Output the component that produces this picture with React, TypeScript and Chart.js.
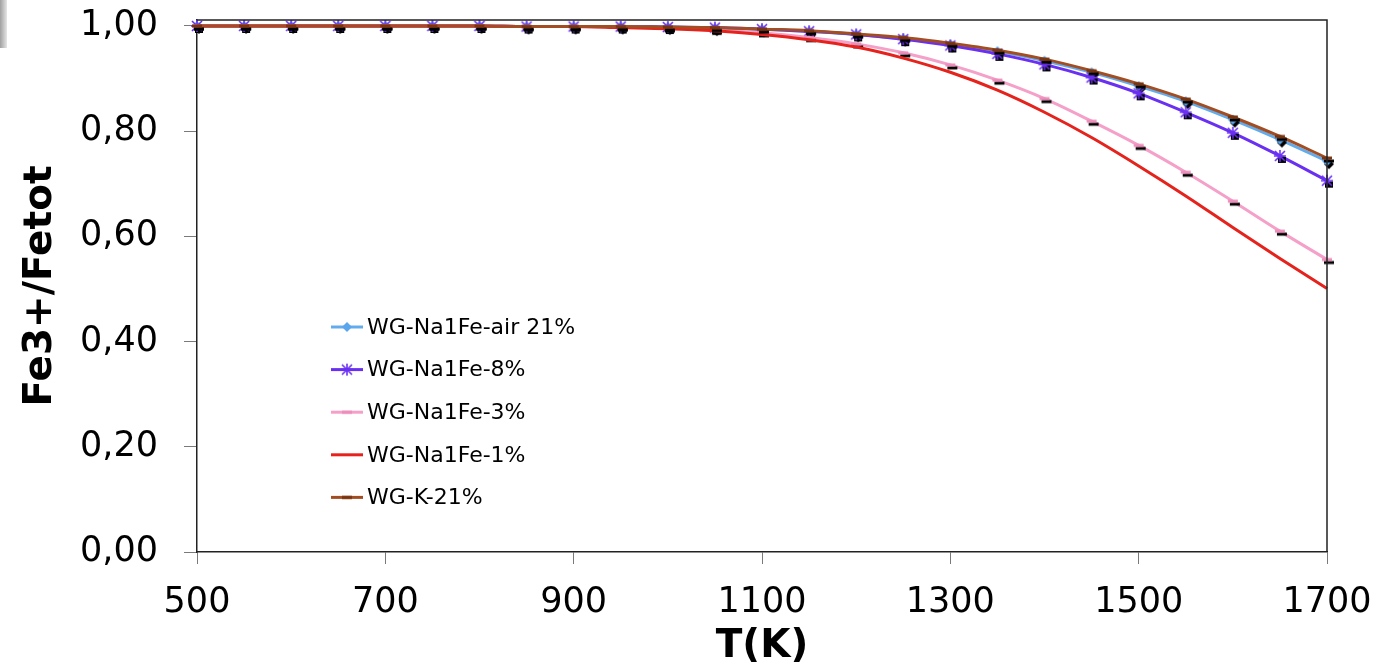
import React, { useEffect, useRef } from "react";
import { Chart, registerables } from "chart.js";

Chart.register(...registerables);

// ---- data ----
const temperatures = [500, 550, 600, 650, 700, 750, 800, 850, 900, 950, 1000, 1050, 1100, 1150, 1200, 1250, 1300, 1350, 1400, 1450, 1500, 1550, 1600, 1650, 1700];
const naAir21 = [1.0, 1.0, 1.0, 1.0, 1.0, 1.0, 1.0, 0.999, 0.999, 0.999, 0.998, 0.996, 0.994, 0.99, 0.984, 0.976, 0.965, 0.952, 0.934, 0.912, 0.886, 0.857, 0.822, 0.784, 0.743];
const na8 = [1.0, 1.0, 1.0, 1.0, 1.0, 1.0, 1.0, 0.999, 0.999, 0.999, 0.998, 0.997, 0.994, 0.99, 0.984, 0.975, 0.963, 0.947, 0.927, 0.902, 0.872, 0.836, 0.797, 0.753, 0.706];
const na3 = [1.0, 1.0, 1.0, 1.0, 1.0, 1.0, 1.0, 0.999, 0.999, 0.998, 0.996, 0.992, 0.987, 0.978, 0.966, 0.949, 0.926, 0.897, 0.862, 0.819, 0.773, 0.722, 0.667, 0.61, 0.556];
const na1 = [1.0, 1.0, 1.0, 1.0, 1.0, 1.0, 1.0, 0.999, 0.999, 0.997, 0.995, 0.991, 0.984, 0.974, 0.96, 0.939, 0.912, 0.878, 0.836, 0.788, 0.734, 0.677, 0.617, 0.558, 0.501];
const k21 = [1.0, 1.0, 1.0, 1.0, 1.0, 1.0, 1.0, 0.999, 0.999, 0.999, 0.998, 0.997, 0.994, 0.991, 0.985, 0.978, 0.967, 0.954, 0.937, 0.915, 0.89, 0.861, 0.827, 0.79, 0.749];

const seriesLabels = ["WG-Na1Fe-air 21%", "WG-Na1Fe-8%", "WG-Na1Fe-3%", "WG-Na1Fe-1%", "WG-K-21%"];
const seriesColors = ["#62ACEE", "#6A30F2", "#F5A0C8", "#E5221C", "#A34E22"];
const seriesMarkers = ["diamond", "star", "dash", "none", "dash"];
const markerColors = ["#5AA6EC", "#6A30F2", "#EE8DBB", "#E5221C", "#7A3410"];

const xTickValues = [500, 700, 900, 1100, 1300, 1500, 1700];
const yTickValues = [0, 0.2, 0.4, 0.6, 0.8, 1.0];
const xTitle = "T(K)";
const yTitle = "Fe3+/Fetot";

const FONT = "'DejaVu Sans', Verdana, sans-serif";

function makeMarker(kind: string, color: string, shadow: boolean): HTMLCanvasElement {
  const c = document.createElement("canvas");
  c.width = 22;
  c.height = 22;
  const g = c.getContext("2d") as CanvasRenderingContext2D;
  const draw = (dx: number, dy: number, col: string) => {
    g.save();
    g.translate(11 + dx, 11 + dy);
    g.fillStyle = col;
    g.strokeStyle = col;
    if (kind === "diamond") {
      g.beginPath();
      g.moveTo(0, -5);
      g.lineTo(5, 0);
      g.lineTo(0, 5);
      g.lineTo(-5, 0);
      g.closePath();
      g.fill();
    } else if (kind === "star") {
      g.lineWidth = 1.6;
      g.beginPath();
      g.moveTo(-5, -5);
      g.lineTo(5, 5);
      g.moveTo(5, -5);
      g.lineTo(-5, 5);
      g.moveTo(0, -6);
      g.lineTo(0, 6);
      g.moveTo(-6, 0);
      g.lineTo(6, 0);
      g.stroke();
    } else if (kind === "dash") {
      g.fillRect(-5, -1.5, 10, 3);
    }
    g.restore();
  };
  if (shadow && kind !== "none") {
    if (kind === "star") {
      g.fillStyle = "#000";
      g.fillRect(11 - 2, 11 + 1, 8, 6);
    } else {
      draw(2, 3, "#000");
    }
  }
  if (kind !== "none") draw(0, 0, color);
  return c;
}

const framePlugin = {
  id: "frameAndLegend",
  afterDraw(chart: any) {
    const { ctx, chartArea } = chart;
    ctx.save();
    // top and right frame lines
    ctx.strokeStyle = "#222";
    ctx.lineWidth = 1.5;
    ctx.beginPath();
    ctx.moveTo(chartArea.left, chartArea.top);
    ctx.lineTo(chartArea.right, chartArea.top);
    ctx.lineTo(chartArea.right, chartArea.bottom);
    ctx.stroke();

    // legend inside plot
    const x0 = 331;
    const x1 = 363;
    const textX = 367;
    const rowY0 = 327;
    const rowStep = 42.6;
    ctx.font = `22px ${FONT}`;
    ctx.textBaseline = "middle";
    ctx.textAlign = "left";
    chart.data.datasets.forEach((ds: any, i: number) => {
      const y = rowY0 + i * rowStep;
      ctx.strokeStyle = ds.borderColor;
      ctx.lineWidth = 3;
      ctx.beginPath();
      ctx.moveTo(x0, y);
      ctx.lineTo(x1, y);
      ctx.stroke();
      const m = ds.legendMarker as HTMLCanvasElement;
      if (m) ctx.drawImage(m, (x0 + x1) / 2 - m.width / 2, y - m.height / 2);
      ctx.fillStyle = "#000";
      ctx.fillText(ds.label, textX, y + 1);
    });
    ctx.restore();
  },
};

export default function App() {
  const canvasRef = useRef<HTMLCanvasElement | null>(null);

  useEffect(() => {
    const canvas = canvasRef.current;
    if (!canvas) return;
    Chart.defaults.font.family = FONT;
    const seriesValues = [naAir21, na8, na3, na1, k21];
    const datasets = seriesValues.map((vals, i) => ({
      label: seriesLabels[i],
      data: temperatures.map((t, j) => ({ x: t, y: vals[j] })),
      borderColor: seriesColors[i],
      backgroundColor: seriesColors[i],
      borderWidth: 3,
      pointStyle: seriesMarkers[i] === "none" ? "circle" : makeMarker(seriesMarkers[i], markerColors[i], true),
      pointRadius: seriesMarkers[i] === "none" ? 0 : 6,
      pointHoverRadius: seriesMarkers[i] === "none" ? 0 : 6,
      legendMarker: seriesMarkers[i] === "none" ? null : makeMarker(seriesMarkers[i], markerColors[i], false),
      cubicInterpolationMode: "monotone",
      clip: false,
      order: seriesValues.length - 1 - i,
    }));

    const chart = new Chart(canvas, {
      type: "line",
      data: { datasets } as any,
      options: {
        responsive: false,
        animation: false,
        layout: { padding: { top: 20, right: 58, left: 0, bottom: 0 } },
        plugins: { legend: { display: false }, tooltip: { enabled: false } },
        scales: {
          x: {
            type: "linear",
            min: 500,
            max: 1700,
            afterBuildTicks: (s: any) => {
              s.ticks = xTickValues.map((v) => ({ value: v }));
            },
            afterFit: (s: any) => {
              s.height = 110;
              s.paddingLeft = 0;
              s.paddingRight = 0;
            },
            ticks: {
              font: { size: 35 },
              color: "#000",
              padding: 18,
              maxRotation: 0,
              autoSkip: false,
              callback: (v: any) => String(v),
            },
            grid: { drawOnChartArea: false, tickLength: 12, color: "#7a7a7a" },
            border: { color: "#222", width: 1.5 },
            title: {
              display: true,
              text: xTitle,
              color: "#000",
              font: { size: 39, weight: "bold", lineHeight: 0.8 },
              padding: { top: 0, bottom: 0 },
            },
          },
          y: {
            min: 0,
            max: 1.0114,
            afterBuildTicks: (s: any) => {
              s.ticks = yTickValues.map((v) => ({ value: v }));
            },
            afterFit: (s: any) => {
              s.width = 197;
              s.paddingTop = 0;
              s.paddingBottom = 0;
            },
            ticks: {
              font: { size: 35 },
              color: "#000",
              padding: 26,
              callback: (v: any) => Number(v).toFixed(2).replace(".", ","),
            },
            grid: { drawOnChartArea: false, tickLength: 13, color: "#7a7a7a" },
            border: { color: "#222", width: 1.5 },
            title: {
              display: true,
              text: yTitle,
              color: "#000",
              font: { size: 39, weight: "bold", lineHeight: 1 },
              padding: { top: 21, bottom: 0 },
            },
          },
        },
      } as any,
      plugins: [framePlugin],
    });
    return () => chart.destroy();
  }, []);

  return (
    <div style={{ position: "fixed", left: 0, top: 0, width: 1385, height: 662, background: "#fff", overflow: "hidden" }}>
      <div
        style={{
          position: "absolute",
          left: 0,
          top: 0,
          width: 7,
          height: 48,
          background: "linear-gradient(to right, #a0a0a0, #e6e6e6)",
        }}
      />
      <canvas ref={canvasRef} width={1385} height={662} style={{ display: "block", position: "absolute", left: 0, top: 0 }} />
    </div>
  );
}
